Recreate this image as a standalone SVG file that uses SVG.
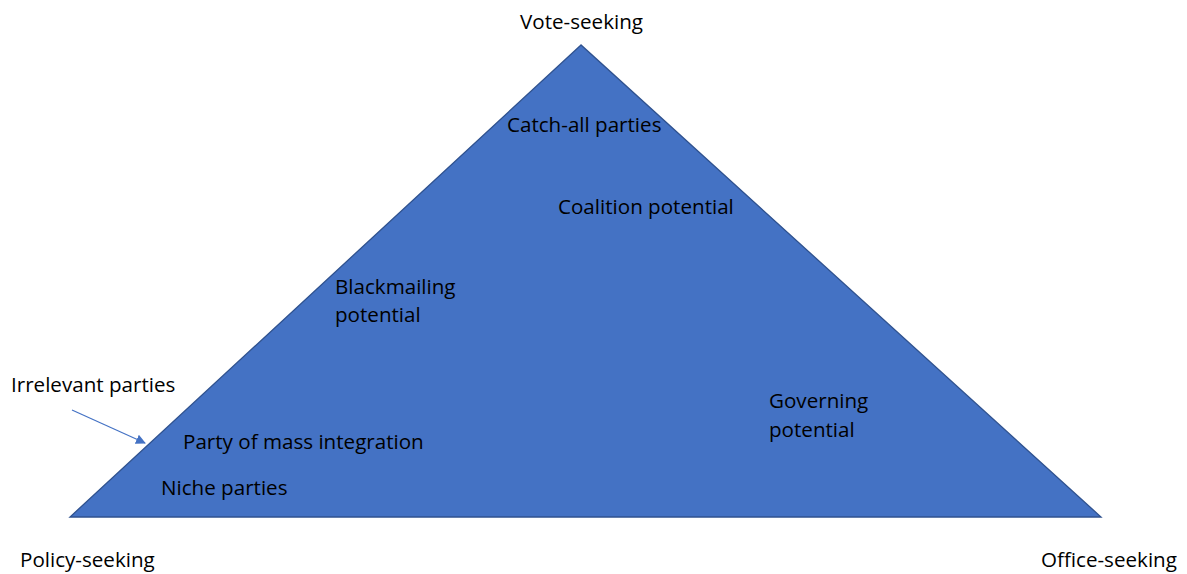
<svg xmlns="http://www.w3.org/2000/svg" width="1187" height="574" viewBox="0 0 1187 574">
  <style>
    .lbl { font-family: "Open Sans", "Noto Sans", "Liberation Sans", sans-serif; font-size: 20.6px; fill: #000; }
    .tri { fill: #4472C4; stroke: #2F528F; stroke-width: 1.3; }
    .conn { stroke: #4472C4; stroke-width: 1.2; fill: none; }
  </style>
  <defs>
    <marker id="arrow" viewBox="0 0 10 10" refX="9" refY="5" markerWidth="10" markerHeight="10" markerUnits="userSpaceOnUse" orient="auto">
      <path d="M0,0 L10,5 L0,10 z" fill="#4472C4"/>
    </marker>
  </defs>

  <!-- Goal triangle -->
  <g id="triangle">
    <polygon class="tri" points="581,45 70,517 1101,517"/>
  </g>

  <!-- Corner goals -->
  <g id="vote-seeking"><text class="lbl" x="520" y="29">Vote-seeking</text></g>
  <g id="policy-seeking"><text class="lbl" x="20" y="567">Policy-seeking</text></g>
  <g id="office-seeking"><text class="lbl" x="1041" y="567">Office-seeking</text></g>

  <!-- Party types and potentials -->
  <g id="catch-all"><text class="lbl" x="507" y="132">Catch-all parties</text></g>
  <g id="coalition"><text class="lbl" x="558" y="214">Coalition potential</text></g>
  <g id="blackmailing">
    <text class="lbl" x="335" y="294">Blackmailing</text>
    <text class="lbl" x="335" y="322">potential</text>
  </g>
  <g id="irrelevant"><text class="lbl" x="11" y="392">Irrelevant parties</text></g>
  <g id="mass-integration"><text class="lbl" x="183" y="449">Party of mass integration</text></g>
  <g id="niche"><text class="lbl" x="161" y="495">Niche parties</text></g>
  <g id="governing">
    <text class="lbl" x="769" y="408">Governing</text>
    <text class="lbl" x="769" y="437">potential</text>
  </g>

  <!-- Connectors -->
  <g id="connectors">
    <line class="conn" x1="72" y1="410" x2="145" y2="443" marker-end="url(#arrow)"/>
  </g>
</svg>
